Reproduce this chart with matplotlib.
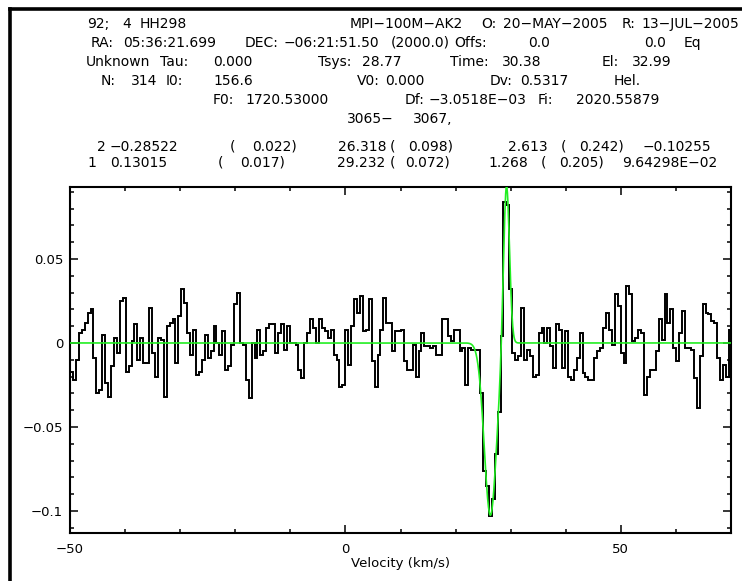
import numpy as np
import matplotlib
matplotlib.use("Agg")
import matplotlib.pyplot as plt

W, H = 742, 581

# spectrum channels (K), channel width from header Dv
first_edge = -50.0
dv = 0.5317
flux_a = [-0.017, -0.022, -0.010, 0.006, 0.008, 0.012, 0.018, 0.020, -0.009, -0.030,
          -0.028, 0.005, -0.024, -0.032, -0.014, 0.003, -0.006, 0.025, 0.027, -0.017,
          -0.014, 0.001, 0.011, -0.010, 0.003, -0.012, -0.012, 0.021, -0.006, -0.020,
          0.003, 0.002, -0.032, 0.010, 0.012, 0.014, -0.012, 0.016, 0.032, 0.024,
          0.006, -0.007, 0.008, -0.019, -0.017, -0.010, 0.005,
          -0.009, -0.005, 0.010, 0.000, -0.007, 0.007, -0.016, -0.014, -0.001, 0.023,
          0.030, 0.000, -0.001, -0.022, -0.033, 0.000, -0.009,
          0.008, -0.007, -0.005, 0.009, 0.011, 0.011, -0.006, 0.006, 0.011, -0.004,
          0.010, 0.000, 0.000, -0.001, -0.016, -0.021, 0.000, 0.006, 0.014, 0.009,
          0.000, 0.014, 0.009, 0.007, 0.003, 0.008, -0.007, -0.010, -0.026, -0.025,
          0.008, -0.013, 0.010, 0.026, 0.018, 0.028, 0.007, 0.008, 0.026, -0.011,
          -0.026]
flux_b = [-0.007, 0.008, 0.027, 0.012, 0.012, -0.005, 0.007, 0.007, 0.008, -0.011,
          -0.016, -0.016, -0.001, -0.020, -0.005, 0.006, -0.002, -0.002, -0.003, -0.002,
          -0.007, -0.007, 0.014, 0.014, 0.004, 0.001, 0.008, 0.008, -0.005, -0.003,
          -0.025, -0.003, -0.004, -0.004, -0.004,
          -0.030, -0.076, -0.085, -0.103, -0.093, -0.066, -0.041, 0.004, 0.084, 0.082,
          0.032]
flux_c = [-0.006, -0.010, -0.008, 0.021, -0.010, -0.004, -0.008, -0.020, -0.019, 0.006,
          0.009, 0.000, 0.009, -0.002, -0.015, 0.011, 0.008, -0.015, 0.007, -0.020,
          -0.022, -0.016, -0.009, 0.006, -0.018, -0.020, -0.022, -0.022, -0.009, -0.005,
          -0.003, 0.009, 0.018, 0.008, -0.001, 0.029, 0.022, -0.006, -0.012, 0.034,
          0.029, 0.001, 0.003, 0.008, 0.006, -0.031, -0.020, -0.016, -0.016, -0.005,
          0.014, 0.002, 0.029, 0.012, 0.020, -0.003, -0.011, 0.006, 0.019, -0.003,
          -0.003, -0.004, -0.021, -0.039, -0.008, 0.023, 0.018, 0.017, 0.013, 0.012,
          -0.009, -0.022, -0.013, -0.020, 0.008]

# gaussian fit results (header table)
fit_pos = [26.318, 29.232]
fit_width = [2.613, 1.268]
fit_peak = [-0.10255, 9.64298e-02]

flux = np.array(flux_a + flux_b + flux_c)
edges = first_edge + dv * np.arange(len(flux) + 1)

fig = plt.figure(figsize=(W / 100, H / 100), dpi=100)
ax = fig.add_axes([70 / W, 1 - 533 / H, (731 - 70) / W, (533 - 186.7) / H])

ax.stairs(flux, edges, color="black", lw=1.4, baseline=None)

vv = np.linspace(-50, 70, 1500)
model = np.zeros_like(vv)
for c, w, t in zip(fit_pos, fit_width, fit_peak):
    model += t * np.exp(-4 * np.log(2) * (vv - c) ** 2 / w ** 2)
ax.plot(vv, model, color="#22ee22", lw=1.2, zorder=3)

ax.set_xlim(-50, 70)
ax.set_ylim(-0.1131, 0.0930)
ax.set_xticks([-50, 0, 50])
ax.set_xticks(np.arange(-50, 71, 10), minor=True)
ax.set_yticks([-0.1, -0.05, 0, 0.05])
ax.set_yticklabels(["\u22120.1", "\u22120.05", "0", "0.05"])
ax.set_xticklabels(["\u221250", "0", "50"])
ax.set_yticks(np.arange(-0.11, 0.095, 0.01), minor=True)
ax.tick_params(which="both", direction="in", top=True, right=True, width=1.1)
ax.tick_params(which="major", length=5.5, labelsize=9.5)
ax.tick_params(which="minor", length=2.8)
ax.tick_params(axis="y", pad=5)
ax.tick_params(axis="x", pad=7)
for s in ax.spines.values():
    s.set_linewidth(1.5)
ax.set_xlabel("Velocity (km/s)", fontsize=9.5, labelpad=1)

# page border (left and top)
fig.add_artist(plt.Line2D([9.8 / W, 9.8 / W], [0, 1 - 9.3 / H], color="black", lw=2.6))
fig.add_artist(plt.Line2D([9.8 / W, 1], [1 - 9.3 / H, 1 - 9.3 / H], color="black", lw=2.6))

header = [
    (28, [(87, "92;"), (122, "4"), (140, "HH298"), (350, "MPI\u2212100M\u2212AK2"),
          (481, "O:"), (503, "20\u2212MAY\u22122005"), (622, "R:"), (641, "13\u2212JUL\u22122005")]),
    (47, [(91, "RA:"), (123, "05:36:21.699"), (245, "DEC:"), (284, "\u221206:21:51.50"),
          (391, "(2000.0)"), (454, "Offs:"), (528, "0.0"), (644, "0.0"), (684, "Eq")]),
    (66, [(86, "Unknown"), (160, "Tau:"), (213, "0.000"), (318, "Tsys:"), (362, "28.77"),
          (450, "Time:"), (502, "30.38"), (602, "El:"), (632, "32.99")]),
    (85, [(101, "N:"), (131, "314"), (166, "I0:"), (213, "156.6"), (357, "V0:"),
          (385, "0.000"), (490, "Dv:"), (520, "0.5317"), (614, "Hel.")]),
    (104, [(213, "F0:"), (245, "1720.53000"), (405, "Df:"), (429, "\u22123.0518E\u221203"),
           (538, "Fi:"), (576, "2020.55879")]),
    (123, [(347, "3065\u2212"), (413, "3067,")]),
    (151, [(97, "2"), (110, "\u22120.28522"), (230, "("), (252, "0.022)"), (338, "26.318"),
           (390, "("), (408, "0.098)"), (508, "2.613"), (561, "("), (579, "0.242)"),
           (643, "\u22120.10255")]),
    (167, [(87, "1"), (110, "0.13015"), (218, "("), (240, "0.017)"), (337, "29.232"),
           (390, "("), (405, "0.072)"), (488, "1.268"), (541, "("), (559, "0.205)"),
           (622, "9.64298E\u221202")]),
]
for y, items in header:
    for x, s in items:
        fig.text(x / W, 1 - y / H, s, fontsize=10, ha="left", va="baseline")

fig.savefig("out.png", dpi=100)
